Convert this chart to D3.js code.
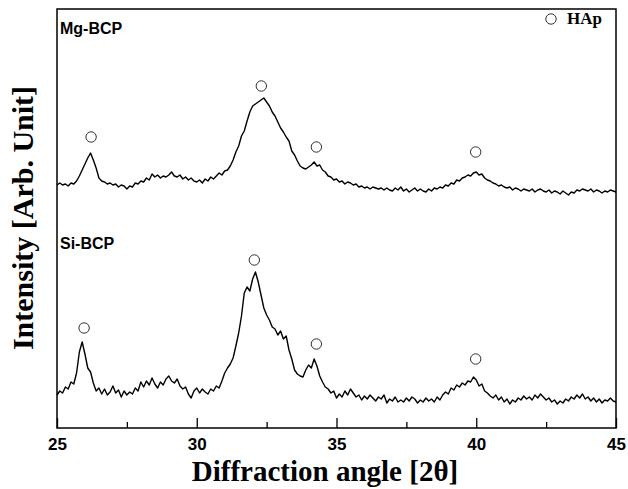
<!DOCTYPE html>
<html>
<head>
<meta charset="utf-8">
<script src="https://cdn.jsdelivr.net/npm/d3@7"></script>
<style>
  html, body { margin: 0; padding: 0; background: #fff; }
  svg { display: block; }
</style>
</head>
<body>
<script>
// XRD patterns of Mg- and Si-substituted BCP, 2θ = 25–45°, 0.1° step
const angleStart = 25;
const angleStep = 0.1;

const seriesNames = ["Mg-BCP", "Si-BCP"];

const mgBCP = [
  33, 35, 33, 34, 32, 35, 34, 37, 42, 48,
  54, 60, 65, 58, 50, 40, 37, 36, 34, 35,
  33, 34, 31, 33, 32, 29, 32, 31, 35, 34,
  37, 36, 40, 38, 44, 41, 43, 40, 42, 41,
  43, 46, 42, 41, 43, 39, 41, 38, 40, 37,
  36, 38, 35, 39, 37, 41, 39, 42, 45, 43,
  47, 48, 52, 58, 66, 72, 82, 87, 97, 106,
  112, 114, 116, 118, 120, 116, 112, 106, 102, 96,
  90, 86, 81, 77, 67, 63, 57, 52, 50, 49,
  51, 53, 56, 52, 53, 48, 46, 42, 41, 38,
  39, 36, 37, 34, 36, 35, 33, 34, 31, 32,
  30, 31, 29, 31, 30, 29, 30, 28, 30, 28,
  27, 30, 28, 31, 27, 29, 26, 28, 30, 27,
  29, 27, 26, 29, 27, 30, 29, 31, 30, 33,
  32, 35, 34, 38, 37, 40, 41, 43, 42, 45,
  46, 43, 44, 40, 38, 37, 35, 34, 32, 33,
  31, 30, 31, 28, 30, 29, 27, 29, 28, 27,
  29, 26, 28, 29, 27, 26, 28, 25, 27, 26,
  24, 27, 25, 23, 26, 25, 28, 27, 29, 28,
  27, 29, 26, 28, 27, 25, 27, 26, 28, 27,
  26
];

const siBCP = [
  33, 37, 35, 41, 39, 46, 44, 55, 76, 86,
  74, 60, 56, 45, 37, 40, 34, 39, 33, 36,
  42, 35, 38, 31, 37, 33, 36, 34, 40, 37,
  46, 41, 47, 43, 50, 44, 40, 46, 43, 49,
  52, 47, 45, 49, 42, 39, 41, 34, 30, 37,
  40, 35, 39, 36, 34, 39, 37, 42, 40, 47,
  55, 60, 64, 70, 82, 95, 112, 135, 141, 137,
  149, 156, 146, 133, 120, 113, 108, 101, 99, 93,
  97, 89, 92, 78, 69, 58, 54, 52, 51, 58,
  63, 60, 69, 62, 52, 46, 41, 39, 35, 37,
  30, 34, 31, 37, 33, 39, 35, 31, 33, 28,
  32, 29, 33, 30, 27, 31, 29, 33, 25, 29,
  27, 31, 26, 28, 26, 30, 27, 31, 29, 25,
  28, 26, 30, 27, 29, 26, 31, 28, 33, 36,
  34, 40, 38, 43, 41, 45, 43, 47, 46, 51,
  48, 42, 44, 37, 35, 32, 30, 33, 28, 31,
  26, 29, 24, 28, 26, 30, 28, 32, 29, 31,
  28, 33, 30, 34, 31, 28, 30, 26, 28, 24,
  27, 25, 29, 27, 31, 29, 33, 30, 34, 29,
  31, 27, 30, 26, 29, 25, 28, 27, 30, 27,
  26
];

// vertical stacking offset applied to the upper pattern
const mgOffset = 210;

// HAp reflections marked on each pattern: [2θ, marker level]
const mgHAp = [[26.22, 81], [32.31, 132], [34.28, 71], [39.98, 66]];
const siHAp = [[25.97, 100], [32.06, 168], [34.28, 84], [39.98, 69]];

const majorTicks = [25, 30, 35, 40, 45];
const minorTicks = [27.5, 32.5, 37.5, 42.5];

const width = 628, height = 489;
const margin = { left: 57, right: 12, top: 9, bottom: 61 };

const svg = d3.select("body").append("svg")
  .attr("width", width).attr("height", height);

const x = d3.scaleLinear().domain([25, 45])
  .range([margin.left, width - margin.right]);
const y = d3.scaleLinear().domain([0, 419])
  .range([height - margin.bottom, margin.top]);

const angle = i => angleStart + i * angleStep;

const line = d3.line()
  .x((d, i) => x(angle(i)))
  .y(d => y(d));

// frame
svg.append("rect")
  .attr("x", margin.left).attr("y", margin.top)
  .attr("width", width - margin.left - margin.right)
  .attr("height", height - margin.top - margin.bottom)
  .attr("fill", "none").attr("stroke", "#000").attr("stroke-width", 1.5);

// traces
svg.append("path")
  .datum(mgBCP.map(v => v + mgOffset))
  .attr("d", line)
  .attr("fill", "none").attr("stroke", "#000").attr("stroke-width", 1.4)
  .attr("stroke-linejoin", "round");

svg.append("path")
  .datum(siBCP)
  .attr("d", line)
  .attr("fill", "none").attr("stroke", "#000").attr("stroke-width", 1.4)
  .attr("stroke-linejoin", "round");

// HAp markers
const markers = mgHAp.map(([a, v]) => [a, v + mgOffset]).concat(siHAp);
svg.selectAll("circle.hap").data(markers).enter().append("circle")
  .attr("class", "hap")
  .attr("cx", d => x(d[0])).attr("cy", d => y(d[1]))
  .attr("r", 5.2)
  .attr("fill", "none").attr("stroke", "#333").attr("stroke-width", 1);

// x axis: major labelled ticks and minor ticks, both pointing inward
const axisY = height - margin.bottom;
const xAxis = d3.axisBottom(x)
  .tickValues(majorTicks)
  .tickFormat(d3.format("d"))
  .tickSizeInner(-10).tickSizeOuter(0).tickPadding(10);
const gx = svg.append("g").attr("transform", `translate(0,${axisY})`).call(xAxis);
gx.select(".domain").remove();
gx.selectAll("line").attr("stroke", "#000").attr("stroke-width", 1.3);
gx.selectAll("text")
  .attr("fill", "#000")
  .style("font-family", "Arial, 'Liberation Sans', sans-serif")
  .style("font-weight", "bold").style("font-size", "17px");

const gMinor = svg.append("g").attr("transform", `translate(0,${axisY})`)
  .call(d3.axisBottom(x).tickValues(minorTicks).tickFormat("")
    .tickSizeInner(-6).tickSizeOuter(0));
gMinor.select(".domain").remove();
gMinor.selectAll("line").attr("stroke", "#000").attr("stroke-width", 1.3);

// axis titles
svg.append("text")
  .attr("x", 325).attr("y", 481)
  .attr("text-anchor", "middle")
  .style("font-family", "'Liberation Serif', 'Times New Roman', serif")
  .style("font-weight", "bold").style("font-size", "29px")
  .text("Diffraction angle [2θ]");

svg.append("text")
  .attr("transform", "translate(33,218) rotate(-90)")
  .attr("text-anchor", "middle")
  .style("font-family", "'Liberation Serif', 'Times New Roman', serif")
  .style("font-weight", "bold").style("font-size", "30px")
  .text("Intensity [Arb. Unit]");

// series labels
const labelPos = [[60, 34], [60, 249]];
svg.selectAll("text.series").data(seriesNames).enter().append("text")
  .attr("class", "series")
  .attr("x", (d, i) => labelPos[i][0]).attr("y", (d, i) => labelPos[i][1])
  .style("font-family", "Arial, 'Liberation Sans', sans-serif")
  .style("font-weight", "bold").style("font-size", "16px")
  .text(d => d);

// legend
svg.append("circle")
  .attr("cx", 551).attr("cy", 19).attr("r", 5.2)
  .attr("fill", "none").attr("stroke", "#333").attr("stroke-width", 1);
svg.append("text")
  .attr("x", 567).attr("y", 24)
  .style("font-family", "'Liberation Serif', 'Times New Roman', serif")
  .style("font-weight", "bold").style("font-size", "17px")
  .text("HAp");
</script>
</body>
</html>
